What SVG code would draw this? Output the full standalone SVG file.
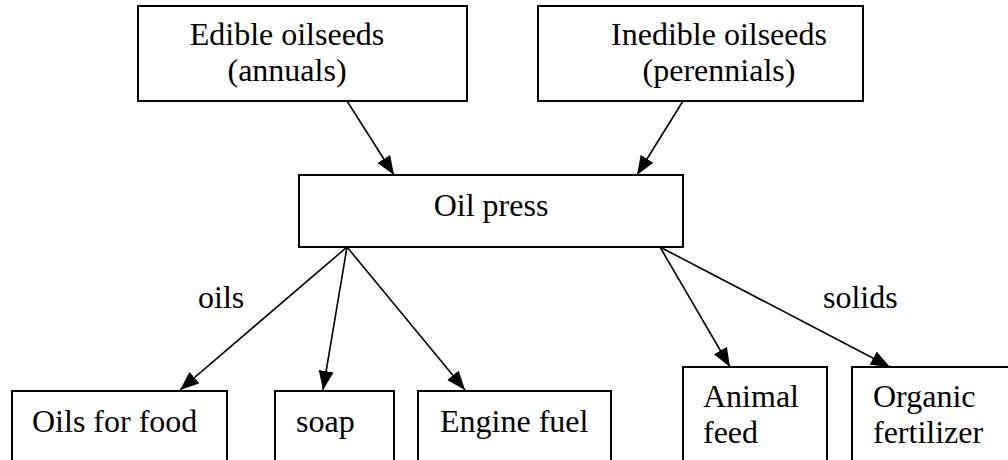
<svg xmlns="http://www.w3.org/2000/svg" width="1008" height="460" viewBox="0 0 1008 460">
<style>
.box{fill:#fff;stroke:#000;stroke-width:2}
text{font-family:'Liberation Serif','Times New Roman',serif;font-size:32px;fill:#000}
.m{text-anchor:middle}
.c{stroke:#000;stroke-width:1.6;fill:none;marker-end:url(#ah)}
</style>
<defs>
<marker id="ah" markerUnits="userSpaceOnUse" markerWidth="20" markerHeight="16" refX="19" refY="7.5" orient="auto">
<path d="M0,0 L19,7.5 L0,15 Z" fill="#000"/>
</marker>
</defs>
<rect width="1008" height="460" fill="#fff"/>
<g id="connectors">
<line class="c" x1="347" y1="101" x2="394" y2="175"/>
<line class="c" x1="683" y1="101" x2="637" y2="175"/>
<line class="c" x1="347" y1="247" x2="180" y2="390"/>
<line class="c" x1="347" y1="247" x2="323" y2="390"/>
<line class="c" x1="347" y1="247" x2="465" y2="390"/>
<line class="c" x1="660" y1="247" x2="730" y2="367"/>
<line class="c" x1="660" y1="247" x2="890" y2="367"/>
<text x="198" y="308">oils</text>
<text x="823" y="308">solids</text>
</g>
<g id="edible">
<rect class="box" x="138" y="6" width="329" height="95"/>
<text class="m" x="287" y="45">Edible oilseeds</text>
<text class="m" x="287" y="81">(annuals)</text>
</g>
<g id="inedible">
<rect class="box" x="538" y="6" width="325" height="95"/>
<text class="m" x="719" y="45">Inedible oilseeds</text>
<text class="m" x="719" y="81">(perennials)</text>
</g>
<g id="press">
<rect class="box" x="299" y="175" width="384" height="72"/>
<text class="m" x="491" y="216">Oil press</text>
</g>
<g id="food">
<rect class="box" x="12" y="391" width="215" height="80"/>
<text x="32" y="432">Oils for food</text>
</g>
<g id="soap">
<rect class="box" x="275" y="391" width="119" height="80"/>
<text x="296" y="432">soap</text>
</g>
<g id="fuel">
<rect class="box" x="418" y="391" width="193" height="80"/>
<text x="440" y="432">Engine fuel</text>
</g>
<g id="feed">
<rect class="box" x="683" y="367" width="144" height="104"/>
<text x="703" y="407">Animal</text>
<text x="703" y="443">feed</text>
</g>
<g id="fertilizer">
<rect class="box" x="852" y="367" width="170" height="104"/>
<text x="873" y="407">Organic</text>
<text x="873" y="443">fertilizer</text>
</g>
</svg>
